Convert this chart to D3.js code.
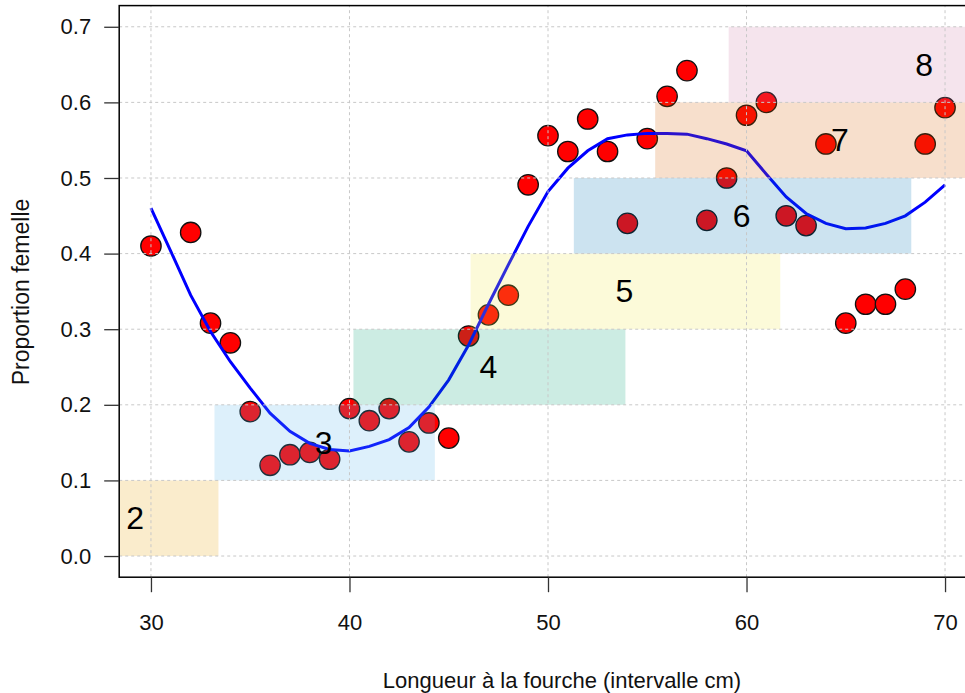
<!DOCTYPE html>
<html>
<head>
<meta charset="utf-8">
<script src="https://cdn.jsdelivr.net/npm/d3@7/dist/d3.min.js"></script>
<style>
body { margin: 0; background: #fff; }
svg text { font-family: Arial, "Liberation Sans", sans-serif; fill: #111; }
.grid line { stroke: #c8c8c8; stroke-width: 1; stroke-dasharray: 3,3; }
</style>
</head>
<body>
<svg id="chart" width="965" height="693"></svg>
<script>
// longueur (cm) et proportion de femelles observee
var longueur = [30, 32, 33, 34, 35, 36, 37, 38, 39, 40, 41, 42, 43, 44, 45, 46, 47, 48, 49, 50,
                51, 52, 53, 54, 55, 56, 57, 58, 59, 60, 61, 62, 63, 64, 65, 66, 67, 68, 69, 70];
var propFem = [0.410, 0.428, 0.308, 0.282, 0.191, 0.120, 0.134, 0.137, 0.128, 0.195,
               0.179, 0.195, 0.151, 0.176, 0.156, 0.291, 0.319, 0.345, 0.491, 0.556,
               0.535, 0.578, 0.535, 0.440, 0.552, 0.608, 0.642, 0.444, 0.500, 0.583,
               0.600, 0.450, 0.437, 0.545, 0.308, 0.333, 0.333, 0.353, 0.545, 0.593];

// courbe ajustee
var lissX = [30, 31, 32, 33, 34, 35, 36, 37, 38, 39, 40, 41, 42, 43, 44, 45, 46, 47, 48, 49, 50,
             51, 52, 53, 54, 55, 56, 57, 58, 59, 60, 61, 62, 63, 64, 65, 66, 67, 68, 69, 70];
var lissY = [0.460, 0.403, 0.345, 0.297, 0.257, 0.222, 0.189, 0.165, 0.149, 0.141, 0.139,
             0.145, 0.154, 0.170, 0.197, 0.233, 0.279, 0.333, 0.385, 0.436, 0.482,
             0.513, 0.536, 0.552, 0.557, 0.559, 0.559, 0.558, 0.552, 0.545, 0.536,
             0.505, 0.475, 0.453, 0.440, 0.433, 0.434, 0.440, 0.450, 0.468, 0.491];

// intervalles de longueur par age
var ages = ["2", "3", "4", "5", "6", "7", "8"];
var ageMin = [25.1, 33.2, 40.2, 46.1, 51.3, 55.4, 59.1];
var ageMax = [33.4, 44.3, 53.9, 61.7, 68.3, 74.1, 78.9];
var ageBas = [0.0, 0.1, 0.2, 0.3, 0.4, 0.5, 0.6];
var ageHaut = [0.1, 0.2, 0.3, 0.4, 0.5, 0.6, 0.7];
var ageCouleurs = ["#E69F00", "#56B4E9", "#009E73", "#F0E442", "#0072B2", "#D55E00", "#CC79A7"];

var xTicks = [30, 40, 50, 60, 70];
var yTicks = [0, 0.1, 0.2, 0.3, 0.4, 0.5, 0.6, 0.7];

var svg = d3.select("#chart");
var x = d3.scaleLinear().domain([28.4, 71.6]).range([119.2, 976.8]);
var y = d3.scaleLinear().domain([-0.028, 0.728]).range([577.2, 5.6]);

svg.append("defs").append("clipPath").attr("id", "zone")
  .append("rect")
    .attr("x", x.range()[0]).attr("y", y.range()[1])
    .attr("width", x.range()[1] - x.range()[0])
    .attr("height", y.range()[0] - y.range()[1]);

var plot = svg.append("g").attr("clip-path", "url(#zone)");

// points
plot.append("g").selectAll("circle")
  .data(longueur)
  .join("circle")
    .attr("cx", function(d) { return x(d); })
    .attr("cy", function(d, i) { return y(propFem[i]); })
    .attr("r", 10.2)
    .attr("fill", "#ff0000")
    .attr("stroke", "#111")
    .attr("stroke-width", 1.3);

// courbe
var ligne = d3.line()
  .x(function(d) { return x(d); })
  .y(function(d, i) { return y(lissY[i]); });
plot.append("path")
  .datum(lissX)
  .attr("d", ligne)
  .attr("fill", "none")
  .attr("stroke", "#0000ff")
  .attr("stroke-width", 3);

// rectangles transparents par age
plot.append("g").selectAll("rect")
  .data(ages)
  .join("rect")
    .attr("x", function(d, i) { return x(ageMin[i]); })
    .attr("y", function(d, i) { return y(ageHaut[i]); })
    .attr("width", function(d, i) { return x(ageMax[i]) - x(ageMin[i]); })
    .attr("height", function(d, i) { return y(ageBas[i]) - y(ageHaut[i]); })
    .attr("fill", function(d, i) { return ageCouleurs[i]; })
    .attr("fill-opacity", 0.2);

// grille
var grid = plot.append("g").attr("class", "grid");
grid.selectAll(".gx").data(xTicks).join("line").attr("class", "gx")
  .attr("x1", function(d) { return x(d); }).attr("x2", function(d) { return x(d); })
  .attr("y1", y.range()[0]).attr("y2", y.range()[1]);
grid.selectAll(".gy").data(yTicks).join("line").attr("class", "gy")
  .attr("y1", function(d) { return y(d); }).attr("y2", function(d) { return y(d); })
  .attr("x1", x.range()[0]).attr("x2", x.range()[1]);

// etiquettes d'age
plot.append("g").selectAll("text")
  .data(ages)
  .join("text")
    .attr("x", function(d, i) { return x((ageMin[i] + ageMax[i]) / 2) - 1; })
    .attr("y", function(d, i) { return y((ageBas[i] + ageHaut[i]) / 2) + 11; })
    .attr("text-anchor", "middle")
    .style("font-size", "32px")
    .style("fill", "#000")
    .text(function(d) { return d; });

// cadre
svg.append("rect")
  .attr("x", x.range()[0]).attr("y", y.range()[1])
  .attr("width", x.range()[1] - x.range()[0])
  .attr("height", y.range()[0] - y.range()[1])
  .attr("fill", "none").attr("stroke", "#000").attr("stroke-width", 1.5);

// axes
var xAxis = d3.axisBottom(x).tickValues(xTicks).tickSize(15).tickPadding(22).tickFormat(d3.format("d"));
var yAxis = d3.axisLeft(y).tickValues(yTicks).tickSize(15).tickPadding(13).tickFormat(d3.format(".1f"));

var gx = svg.append("g").attr("transform", "translate(0," + y.range()[0] + ")").call(xAxis);
var gy = svg.append("g").attr("transform", "translate(" + x.range()[0] + ",0)").call(yAxis);
[gx, gy].forEach(function(g) {
  g.select(".domain").remove();
  g.selectAll(".tick line").attr("stroke", "#333").attr("stroke-width", 1.3);
  g.selectAll(".tick text").style("font-size", "22px").style("font-family", "Arial, 'Liberation Sans', sans-serif").attr("fill", "#111");
});

svg.append("text")
  .attr("x", 562).attr("y", 688)
  .attr("text-anchor", "middle")
  .style("font-size", "22px")
  .text("Longueur à la fourche (intervalle cm)");

svg.append("text")
  .attr("transform", "translate(29,292) rotate(-90)")
  .attr("text-anchor", "middle")
  .style("font-size", "23px")
  .text("Proportion femelle");
</script>
</body>
</html>
